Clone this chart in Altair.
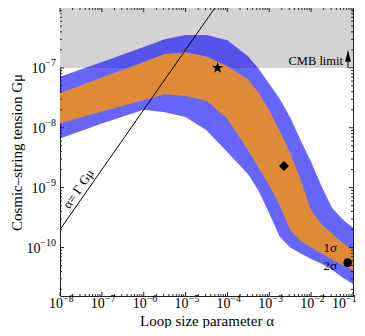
import altair as alt
import pandas as pd

FONT = "Liberation Serif"

# ---- data ----
alpha = [1e-8, 1e-7, 1e-6, 3.16e-6, 1e-5, 3.16e-5, 1e-4, 3.16e-4, 5.62e-4, 1e-3,
         1.78e-3, 3.16e-3, 5.62e-3, 1e-2, 1.78e-2, 3.16e-2, 5.62e-2, 1e-1]
log_upper_2s = [-7.15, -6.90, -6.65, -6.52, -6.45, -6.45, -6.54, -6.81, -7.02, -7.27,
                -7.52, -7.83, -8.21, -8.57, -8.98, -9.34, -9.53, -9.67]
log_upper_1s = [-7.42, -7.16, -6.90, -6.77, -6.74, -6.81, -6.97, -7.20, -7.42, -7.71,
                -8.06, -8.42, -8.87, -9.38, -9.61, -9.77, -9.92, -10.04]
log_lower_1s = [-7.93, -7.73, -7.54, -7.44, -7.47, -7.55, -7.85, -8.39, -8.67, -8.97,
                -9.30, -9.71, -9.89, -10.00, -10.10, -10.20, -10.29, -10.38]
log_lower_2s = [-8.18, -7.93, -7.70, -7.74, -7.82, -8.04, -8.41, -8.78, -9.06, -9.43,
                -9.82, -10.00, -10.10, -10.19, -10.27, -10.37, -10.50, -10.61]

cmb_limit = 1e-7
gmu_top = 1e-6
gmu_bottom = 1.55e-11
alpha_min, alpha_max = 1e-8, 1e-1

line_alpha = [1e-8, 5e-5]          # alpha = Gamma G mu, Gamma = 50
line_gmu = [2e-10, 1e-6]

star_pt = (5.8e-5, 1.0e-7)
diamond_pt = (2.24e-3, 2.3e-9)
circle_pt = (7.46e-2, 5.6e-11)

x_major = [1e-8, 1e-7, 1e-6, 1e-5, 1e-4, 1e-3, 1e-2, 1e-1]
x_exp = ["−8", "−7", "−6", "−5", "−4", "−3", "−2", "−1"]
y_major = [1e-10, 1e-9, 1e-8, 1e-7]
y_exp = ["−10", "−9", "−8", "−7"]
x_minor = [m * 10.0 ** e for e in range(-8, -1) for m in range(2, 10)]
y_minor = [m * 10.0 ** e for e in range(-11, -6) for m in range(2, 10) if m * 10.0 ** e >= gmu_bottom]

W = 293
H = 288

band = pd.DataFrame({
    "a": alpha,
    "u2": [10 ** v for v in log_upper_2s],
    "u1": [10 ** v for v in log_upper_1s],
    "l1": [10 ** v for v in log_lower_1s],
    "l2": [10 ** v for v in log_lower_2s],
})

xs = alt.Scale(type="log", domain=[alpha_min, alpha_max], nice=False)
ys = alt.Scale(type="log", domain=[gmu_bottom, gmu_top], nice=False)

xaxis = alt.Axis(title="Loop size parameter α", labels=False, ticks=False, domain=False,
                 grid=False, titleFont=FONT, titleFontSize=15, titleFontWeight="normal",
                 titleColor="black", titleY=29, titleBaseline="alphabetic")
yaxis = alt.Axis(title="Cosmic–string tension Gμ", labels=False, ticks=False, domain=False,
                 grid=False, titleFont=FONT, titleFontSize=15, titleFontWeight="normal",
                 titleColor="black", titleX=-39, titleBaseline="alphabetic")

def X(f="a"):
    return alt.X(f"{f}:Q", scale=xs, axis=xaxis)

def Y(f="g"):
    return alt.Y(f"{f}:Q", scale=ys, axis=yaxis)

gray = alt.Chart(pd.DataFrame({"a": [alpha_min], "a2": [alpha_max], "g": [cmb_limit], "g2": [gmu_top]})).mark_rect(
    color="#d3d3d3").encode(x=X(), x2="a2:Q", y=Y(), y2="g2:Q")

blue = alt.Chart(band).mark_area(color="#0000ff", opacity=0.6).encode(x=X(), y=Y("u2"), y2="l2:Q")
orange = alt.Chart(band).mark_area(color="#df8a36", opacity=1).encode(x=X(), y=Y("u1"), y2="l1:Q")

line = alt.Chart(pd.DataFrame({"a": line_alpha, "g": line_gmu})).mark_line(
    color="black", strokeWidth=1, clip=True).encode(x=X(), y=Y())

line_lbl = alt.Chart(pd.DataFrame({"a": [4e-8], "g": [8e-10], "t": ["α= Γ Gμ"]})).mark_text(
    font=FONT, fontSize=13, angle=304.6, baseline="bottom", align="center", dy=-1, color="black"
).encode(x=X(), y=Y(), text="t:N")

star_path = ("M0,-1L0.225,-0.309L0.951,-0.309L0.363,0.118L0.588,0.809L0,0.382"
             "L-0.588,0.809L-0.363,0.118L-0.951,-0.309L-0.225,-0.309Z")
star = alt.Chart(pd.DataFrame({"a": [star_pt[0]], "g": [star_pt[1]]})).mark_point(
    shape=star_path, filled=True, color="black", size=140, opacity=1).encode(x=X(), y=Y())
diamond = alt.Chart(pd.DataFrame({"a": [diamond_pt[0]], "g": [diamond_pt[1]]})).mark_point(
    shape="diamond", filled=True, color="black", size=100, opacity=1).encode(x=X(), y=Y())
circle = alt.Chart(pd.DataFrame({"a": [circle_pt[0]], "g": [circle_pt[1]]})).mark_point(
    shape="circle", filled=True, color="black", size=75, opacity=1).encode(x=X(), y=Y())

sig = alt.Chart(pd.DataFrame({"a": [0.0414, 0.0414], "g": [9.7e-11, 4.83e-11], "t": ["1σ", "2σ"]})).mark_text(
    font=FONT, fontSize=13, align="right", baseline="middle", color="black").encode(x=X(), y=Y(), text="t:N")

cmb_txt = alt.Chart(pd.DataFrame({"a": [0.0577], "g": [cmb_limit], "t": ["CMB limit"]})).mark_text(
    font=FONT, fontSize=12.5, align="right", baseline="alphabetic", dy=-3, color="black"
).encode(x=X(), y=Y(), text="t:N")

arrow_shaft = alt.Chart(pd.DataFrame({"a": [0.0759], "g": [cmb_limit], "g2": [1.5e-7]})).mark_rule(
    color="black", strokeWidth=1).encode(x=X(), y=Y(), y2="g2:Q")
arrow_head = alt.Chart(pd.DataFrame({"a": [0.0759], "g": [1.59e-7]})).mark_point(
    shape="M0,-1L0.5,1L-0.5,1Z", filled=True, color="black", size=144, opacity=1).encode(x=X(), y=Y())

# ---- ticks (inward, all four sides) ----
xmaj = pd.DataFrame({"a": x_major, "e": x_exp})
xmin = pd.DataFrame({"a": x_minor})
ymaj = pd.DataFrame({"g": y_major, "e": y_exp})
ymin = pd.DataFrame({"g": y_minor})

TC = "#222"
ticks = [
    alt.Chart(xmaj).mark_rule(color=TC).encode(x=X(), y=alt.value(H), y2=alt.value(H - 4)),
    alt.Chart(xmaj).mark_rule(color=TC).encode(x=X(), y=alt.value(0), y2=alt.value(4)),
    alt.Chart(xmin).mark_rule(color=TC).encode(x=X(), y=alt.value(H), y2=alt.value(H - 2)),
    alt.Chart(xmin).mark_rule(color=TC).encode(x=X(), y=alt.value(0), y2=alt.value(2)),
    alt.Chart(ymaj).mark_rule(color=TC).encode(y=Y(), x=alt.value(0), x2=alt.value(4)),
    alt.Chart(ymaj).mark_rule(color=TC).encode(y=Y(), x=alt.value(W), x2=alt.value(W - 4)),
    alt.Chart(ymin).mark_rule(color=TC).encode(y=Y(), x=alt.value(0), x2=alt.value(2)),
    alt.Chart(ymin).mark_rule(color=TC).encode(y=Y(), x=alt.value(W), x2=alt.value(W - 2)),
]

# ---- tick labels 10^n ----
def x_labels(filter_expr, shift):
    base = alt.Chart(xmaj).transform_filter(filter_expr)
    ten = base.transform_calculate(t="'10'").mark_text(
        font=FONT, fontSize=14, align="right", baseline="alphabetic", dx=3 + shift, color="black"
    ).encode(x=X(), y=alt.value(H + 12), text="t:N")
    ex = base.mark_text(
        font=FONT, fontSize=10, align="left", baseline="alphabetic", dx=3 + shift, color="black"
    ).encode(x=X(), y=alt.value(H + 6), text="e:N")
    return [ten, ex]

xl_main = x_labels(f"datum.a < {alpha_max * 0.5}", 0)
xl_last = x_labels(f"datum.a > {alpha_max * 0.5}", -10)

ylexp = alt.Chart(ymaj).mark_text(
    font=FONT, fontSize=10, align="right", baseline="alphabetic", dx=-4, dy=-1.5, color="black"
).encode(y=Y(), x=alt.value(0), text="e:N")
yl10_a = alt.Chart(ymaj).transform_filter("length(datum.e) == 2").transform_calculate(t="'10'").mark_text(
    font=FONT, fontSize=14, align="right", baseline="alphabetic", dx=-14.5, dy=5, color="black"
).encode(y=Y(), x=alt.value(0), text="t:N")
yl10_b = alt.Chart(ymaj).transform_filter("length(datum.e) == 3").transform_calculate(t="'10'").mark_text(
    font=FONT, fontSize=14, align="right", baseline="alphabetic", dx=-19.5, dy=5, color="black"
).encode(y=Y(), x=alt.value(0), text="t:N")

chart = alt.layer(
    gray, blue, orange, line, line_lbl, star, diamond, circle, sig, cmb_txt, arrow_shaft, arrow_head,
    *ticks, *xl_main, *xl_last, ylexp, yl10_a, yl10_b
).properties(
    width=W, height=H,
    autosize=alt.AutoSizeParams(type="none"),
    padding={"left": 52, "top": 0, "right": 4, "bottom": 32},
    background="white",
).configure_view(stroke="#222", strokeWidth=1)

chart.save("out.html", embed_options={"renderer": "svg", "actions": False})
